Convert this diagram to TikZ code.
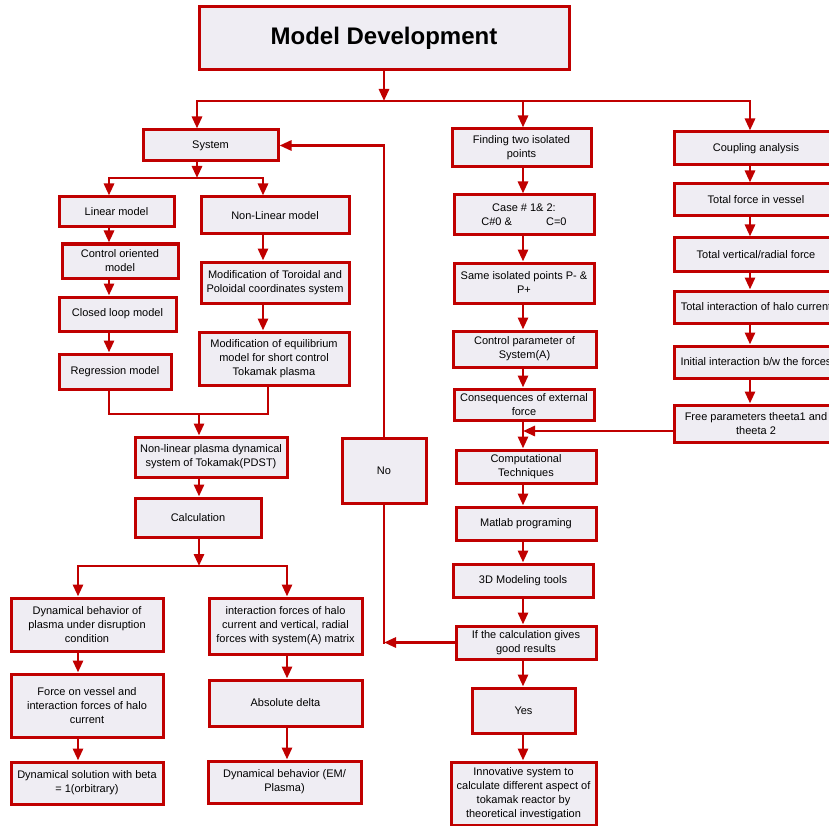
\documentclass[tikz,border=0pt]{standalone}
\usepackage{fontspec}
\setmainfont{Liberation Sans}
\usetikzlibrary{arrows.meta,positioning}
\definecolor{mdred}{RGB}{192,0,0}
\definecolor{mdfill}{RGB}{239,237,243}

\begin{document}
\begin{tikzpicture}[
  x=1pt, y=-1pt,
  font=\fontsize{11}{14}\selectfont,
  blk/.style={draw=mdred, fill=mdfill, line width=3pt, align=center, inner sep=1pt},
  sz/.style 2 args={minimum width=#1pt, minimum height=#2pt},
  arr/.style={draw=mdred, line width=2.8pt, -{Triangle[length=12pt,width=10pt]}},
  ln/.style={draw=mdred, line width=2.8pt, line cap=rect}
]
  \useasboundingbox (0,0) rectangle (829,826);
  \clip (0,0) rectangle (829,826);

  \node[blk, sz={370}{63}, font=\fontsize{24}{28}\selectfont\bfseries] (title) at (384,38.5) {Model Development};

  \node[blk, sz={135}{31}] (system) at (210.5,145.5) {System};
  \node[blk, sz={115}{30}] (linear) at (116.5,212) {Linear model};
  \node[blk, sz={148}{37}] (nonlin) at (275,215.5) {Non-Linear model};
  \node[blk, sz={116}{34}] (ctrlmod) at (120,261) {Control oriented\\model};
  \node[blk, sz={117}{34}] (closed) at (117.5,314) {Closed loop model};
  \node[blk, sz={112}{35}] (regress) at (115,371.5) {Regression model};
  \node[blk, sz={148}{41}] (toroid) at (275,282.5) {Modification of Toroidal and\\Poloidal coordinates system};
  \node[blk, sz={150}{53}] (equil) at (274,358.5) {Modification of equilibrium\\model for short control\\Tokamak plasma};
  \node[blk, sz={152}{40}] (pdst) at (211,457) {Non-linear plasma dynamical\\system of Tokamak(PDST)};
  \node[blk, sz={126}{39}] (calc) at (198,517.5) {Calculation};
  \node[blk, sz={152}{53}] (dynbeh) at (87,624.5) {Dynamical behavior of\\plasma under disruption\\condition};
  \node[blk, sz={152}{63}] (forcev) at (87,705.5) {Force on vessel and\\interaction forces of halo\\current};
  \node[blk, sz={152}{42}] (dynsol) at (87,783) {Dynamical solution with beta\\= 1(orbitrary)};
  \node[blk, sz={153}{56}] (halo) at (285.5,626) {interaction forces of halo\\current and vertical, radial\\forces with system(A) matrix};
  \node[blk, sz={153}{46}] (absdelta) at (285.5,703) {Absolute delta};
  \node[blk, sz={153}{42}] (dynem) at (284.5,782) {Dynamical behavior (EM/\\Plasma)};
  \node[blk, sz={84}{65}] (no) at (384,470.5) {No};

  \node[blk, sz={139}{38}] (finding) at (521.5,148) {Finding two isolated\\points};
  \node[blk, sz={140}{40}] (cases) at (524,215) {Case \# 1\& 2:\\C\#0 \&\hspace{3.1em}C=0};
  \node[blk, sz={140}{40}] (same) at (524,283) {Same isolated points P- \&\\P+};
  \node[blk, sz={143}{36}] (ctrlpar) at (524.5,349) {Control parameter of\\System(A)};
  \node[blk, sz={140}{31}] (conseq) at (524,404.5) {Consequences of external\\force};
  \node[blk, sz={140}{33}] (comp) at (526,466.5) {Computational\\Techniques};
  \node[blk, sz={140}{33}] (matlab) at (526,523.5) {Matlab programing};
  \node[blk, sz={140}{33}] (model3d) at (523,580.5) {3D Modeling tools};
  \node[blk, sz={140}{33}] (ifcalc) at (526,642.5) {If the calculation gives\\good results};
  \node[blk, sz={103}{45}] (yes) at (523.5,710.5) {Yes};
  \node[blk, sz={145}{63}] (innov) at (523.5,793.5) {Innovative system to\\calculate different aspect of\\tokamak reactor by\\theoretical investigation};

  \node[blk, sz={164}{33}] (coupling) at (756,148.5) {Coupling analysis};
  \node[blk, sz={164}{32}] (totforce) at (756,200) {Total force in vessel};
  \node[blk, sz={164}{33}] (totvert) at (756,254.5) {Total vertical/radial force};
  \node[blk, sz={164}{32}] (totint) at (756,307) {Total interaction of halo current};
  \node[blk, sz={164}{32}] (initint) at (756,362) {Initial interaction b/w the forces};
  \node[blk, sz={164}{37}] (freepar) at (756,423.5) {Free parameters theeta1 and\\theeta 2};

  \coordinate (topbar) at (0,101);
  \coordinate (sysbar) at (0,178);
  \coordinate (mergebar) at (0,414);
  \coordinate (calcbar) at (0,566);
  \coordinate (colS) at (197,0);
  \coordinate (colL) at (109,0);
  \coordinate (colN) at (263,0);
  \coordinate (colC) at (199,0);
  \coordinate (colE) at (268,0);
  \coordinate (colB) at (78,0);
  \coordinate (colH) at (287,0);
  \coordinate (colM) at (523,0);
  \coordinate (colR) at (750,0);

  \draw[arr] (title.south) -- (title.south |- topbar);
  \draw[ln] (colS |- topbar) -- (colR |- topbar);
  \draw[arr] (colS |- topbar) -- (colS |- system.north);
  \draw[arr] (colM |- topbar) -- (colM |- finding.north);
  \draw[arr] (colR |- topbar) -- (colR |- coupling.north);

  \draw[arr] (colS |- system.south) -- (colS |- sysbar);
  \draw[ln] (colL |- sysbar) -- (colN |- sysbar);
  \draw[arr] (colL |- sysbar) -- (colL |- linear.north);
  \draw[arr] (colN |- sysbar) -- (colN |- nonlin.north);
  \foreach \a/\b in {linear/ctrlmod, ctrlmod/closed, closed/regress}
    \draw[arr] (colL |- \a.south) -- (colL |- \b.north);
  \foreach \a/\b in {nonlin/toroid, toroid/equil}
    \draw[arr] (colN |- \a.south) -- (colN |- \b.north);
  \draw[ln] (colL |- regress.south) -- (colL |- mergebar) -- (colE |- mergebar) -- (colE |- equil.south);
  \draw[arr] (colC |- mergebar) -- (colC |- pdst.north);
  \draw[arr] (colC |- pdst.south) -- (colC |- calc.north);
  \draw[arr] (colC |- calc.south) -- (colC |- calcbar);
  \draw[ln] (colB |- calcbar) -- (colH |- calcbar);
  \draw[arr] (colB |- calcbar) -- (colB |- dynbeh.north);
  \draw[arr] (colH |- calcbar) -- (colH |- halo.north);
  \foreach \a/\b in {dynbeh/forcev, forcev/dynsol}
    \draw[arr] (colB |- \a.south) -- (colB |- \b.north);
  \foreach \a/\b in {halo/absdelta, absdelta/dynem}
    \draw[arr] (colH |- \a.south) -- (colH |- \b.north);

  \foreach \a/\b in {finding/cases, cases/same, same/ctrlpar, ctrlpar/conseq, conseq/comp,
      comp/matlab, matlab/model3d, model3d/ifcalc, ifcalc/yes, yes/innov}
    \draw[arr] (colM |- \a.south) -- (colM |- \b.north);
  \foreach \a/\b in {coupling/totforce, totforce/totvert, totvert/totint, totint/initint, initint/freepar}
    \draw[arr] (colR |- \a.south) -- (colR |- \b.north);
  \draw[arr] ([yshift=-7.5pt]freepar.west) -- ([yshift=-7.5pt]freepar.west -| colM);

  \draw[arr] (no.north) |- (system.east);
  \draw[ln] (no.south) -- (no.south |- ifcalc.west);
  \draw[arr] (ifcalc.west) -- (no.south |- ifcalc.west);
\end{tikzpicture}
\end{document}
